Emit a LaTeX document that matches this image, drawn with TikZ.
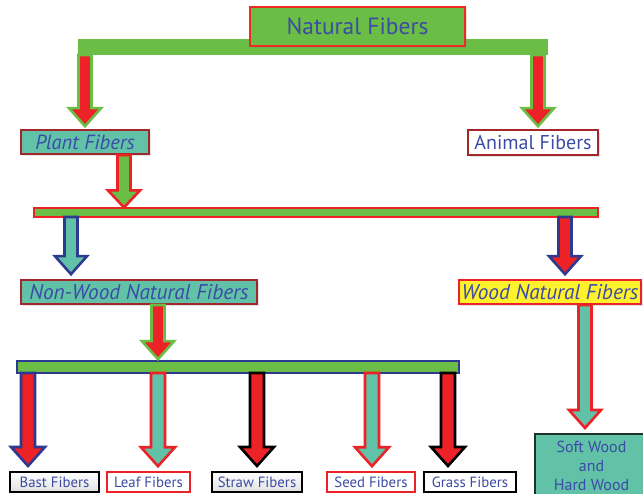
\documentclass[tikz,border=0pt]{standalone}
\usepackage{fontspec}
\setmainfont{PT Sans}
\usetikzlibrary{calc,shadows}

\definecolor{fgreen}{HTML}{6ABD45}
\definecolor{fred}{HTML}{EC2227}
\definecolor{fteal}{HTML}{62C2A8}
\definecolor{fblue}{HTML}{3C4BA5}
\definecolor{fnavy}{HTML}{2E3A8F}
\definecolor{fdred}{HTML}{A3262A}
\definecolor{fyellow}{HTML}{FFF22D}
\definecolor{fdark}{HTML}{1E3328}

\tikzset{
  box/.style={draw, rectangle, inner sep=0pt, text=fblue, line width=1.6pt,
    drop shadow={shadow xshift=1.5pt, shadow yshift=-2.5pt, opacity=0.22}},
  leafbox/.style={draw, rectangle, inner sep=0pt, text=fblue, line width=1.6pt,
    font=\fontsize{14.8}{16}\selectfont, minimum height=20pt},
  hbar/.style={rectangle, inner sep=0pt},
}

% block arrow: #1 style, #2 start point, #3 tip point, #4 shaft half width, #5 head half width, #6 head length
\newcommand\blockarrow[6]{%
  \draw[#1, line width=2.6pt, line join=miter] let \p1=(#2), \p2=(#3) in
    (\x1-#4,\y1) -- (\x1+#4,\y1) -- (\x1+#4,\y2+#6) -- (\x1+#5,\y2+#6) -- (\x2,\y2)
    -- (\x1-#5,\y2+#6) -- (\x1-#4,\y2+#6) -- cycle;}

\begin{document}
\begin{tikzpicture}[x=1pt,y=-1pt]
\useasboundingbox (0,0) rectangle (643,494);

% bars
\node[hbar, fill=fgreen, minimum width=470pt, minimum height=16pt] (topbar) at (313,47) {};
\node[hbar, fill=fgreen, draw=fred, line width=1.2pt, minimum width=564pt, minimum height=9pt] (bar2) at (316,212.5) {};
\node[hbar, fill=fgreen, draw=fnavy, line width=1.6pt, minimum width=442pt, minimum height=12pt] (bar3) at (238,367) {};

% boxes
\node[box, fill=fgreen, draw=fred!90!orange, line width=2.2pt, minimum width=215pt, minimum height=39pt,
      font=\fontsize{23.5}{25}\selectfont] (nat) at (357.5,26.5) {Natural Fibers};
\node[box, fill=fteal, draw=fdred, minimum width=128pt, minimum height=24pt,
      font=\fontsize{20.5}{22}\selectfont\itshape] (plant) at (85,142) {Plant Fibers};
\node[box, fill=white, draw=fdred, minimum width=130pt, minimum height=25pt,
      font=\fontsize{20}{22}\selectfont] (animal) at (533,142.5) {Animal Fibers};
\node[box, fill=fteal, draw=fdred, minimum width=236pt, minimum height=24pt,
      font=\fontsize{21.3}{22}\selectfont\itshape] (nonwood) at (139,292) {Non-Wood Natural Fibers};
\node[box, fill=fyellow, draw=fred, minimum width=182pt, minimum height=24pt,
      font=\fontsize{21.3}{22}\selectfont\itshape] (wood) at (550,292) {Wood Natural Fibers};

\node[leafbox, top color=white, bottom color=black!12, draw=black, line width=2pt, minimum width=89pt] (bast) at (54.5,482) {Bast Fibers};
\node[leafbox, fill=white, draw=fred, minimum width=83pt] (leaf) at (148.5,482) {Leaf Fibers};
\node[leafbox, top color=white, bottom color=black!12, draw=black, line width=2pt, minimum width=90pt] (straw) at (257,482) {Straw Fibers};
\node[leafbox, fill=white, draw=fred, minimum width=88pt] (seed) at (371,482) {Seed Fibers};
\node[leafbox, fill=white, draw=black, line width=2pt, minimum width=92pt] (grass) at (470,482) {Grass Fibers};
\node[draw=fdark, fill=fteal, line width=2pt, inner sep=0pt, minimum width=113pt, minimum height=63pt,
      text=fblue, align=center, font=\fontsize{16}{19}\selectfont] (soft) at (591.5,465.5)
      {Soft Wood\\and\\Hard Wood};

% arrow anchor points on the bars
\coordinate (s1) at (85,55);
\coordinate (s2) at (538,55);
\coordinate (s3) at (124,155);
\coordinate (s4) at (71,217);
\coordinate (s5) at (565,217);
\coordinate (s6) at (158,305);
\coordinate (s7) at (28,373);
\coordinate (s8) at (158,373);
\coordinate (s9) at (257,373);
\coordinate (s10) at (372,373);
\coordinate (s11) at (448,373);
\coordinate (s12) at (585,305);

\blockarrow{fill=fred, draw=fgreen}{s1}{[yshift=3pt]plant.north -| s1}{6.5pt}{16pt}{18pt}
\blockarrow{fill=fred, draw=fgreen}{s2}{[yshift=3pt]animal.north -| s2}{6.5pt}{16pt}{18pt}
\blockarrow{fill=fgreen, draw=fred}{s3}{bar2.north -| s3}{6.5pt}{16pt}{17pt}
\blockarrow{fill=fteal, draw=fnavy}{s4}{[yshift=5pt]nonwood.north -| s4}{6.5pt}{16pt}{18pt}
\blockarrow{fill=fred, draw=fnavy}{s5}{[yshift=5pt]wood.north -| s5}{6.5pt}{16pt}{18pt}
\blockarrow{fill=fred, draw=fgreen}{s6}{[yshift=1pt]bar3.north -| s6}{6.5pt}{16pt}{18pt}
\blockarrow{fill=fred, draw=fnavy}{s7}{[yshift=5pt]bast.north -| s7}{7pt}{17pt}{19pt}
\blockarrow{fill=fteal, draw=fred}{s8}{[yshift=5pt]leaf.north -| s8}{7pt}{17pt}{19pt}
\blockarrow{fill=fred, draw=black}{s9}{[yshift=5pt]straw.north -| s9}{7pt}{17pt}{19pt}
\blockarrow{fill=fteal, draw=fred}{s10}{[yshift=5pt]seed.north -| s10}{7pt}{17pt}{19pt}
\blockarrow{fill=fred, draw=black}{s11}{[yshift=5pt]grass.north -| s11}{7pt}{17pt}{19pt}
\blockarrow{fill=fteal, draw=fred}{s12}{[yshift=5pt]soft.north -| s12}{6.5pt}{16pt}{18pt}

\end{tikzpicture}
\end{document}
